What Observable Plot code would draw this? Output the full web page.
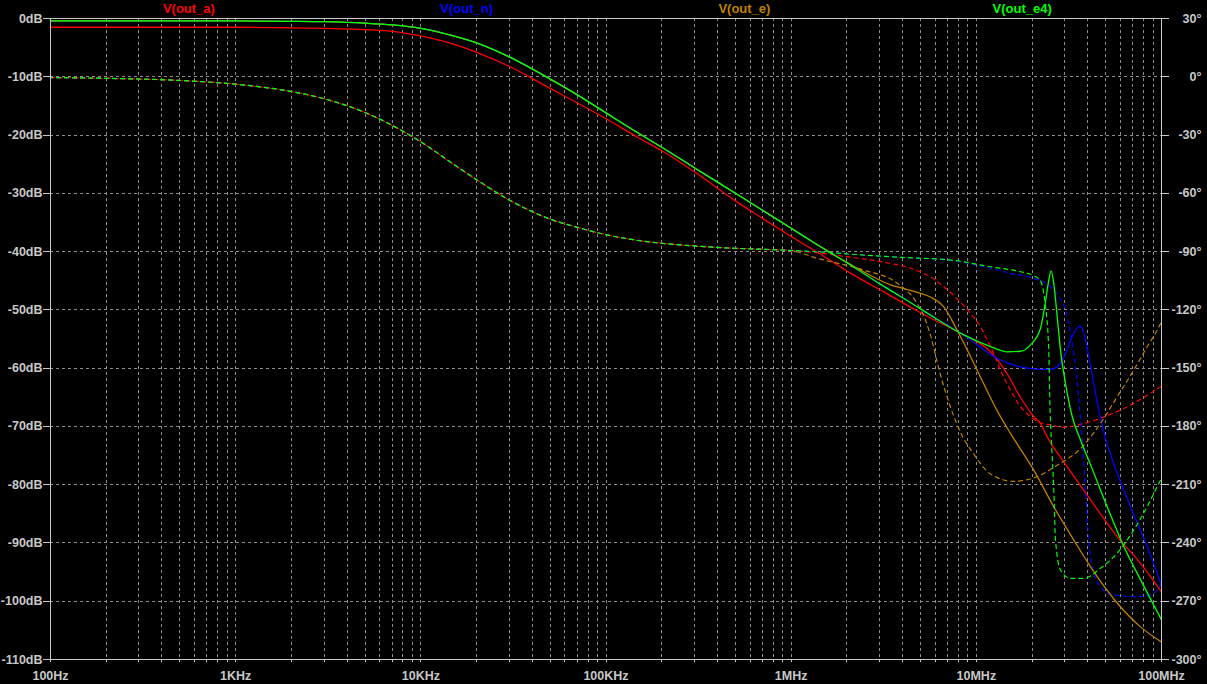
<!DOCTYPE html>
<html><head><meta charset="utf-8">
<script src="https://cdn.jsdelivr.net/npm/d3@7"></script>
<script src="https://cdn.jsdelivr.net/npm/@observablehq/plot@0.6"></script>
<style>
html,body{margin:0;padding:0;background:#000;}
#wrap{position:relative;width:1207px;height:684px;overflow:hidden;}
#legend{position:absolute;left:50px;top:0;width:1111px;height:18px;display:flex;}
#legend span{flex:1;text-align:center;font:bold 13px "Liberation Sans",Arial,sans-serif;line-height:17px;}
</style></head><body><div id="wrap"><div id="legend"></div></div>
<script>
// ---- labels ----
const seriesNames = ["V(out_a)", "V(out_n)", "V(out_e)", "V(out_e4)"];
const seriesColors = ["#ff0000", "#0000ff", "#bf8000", "#00ff00"];
const xTickValues = [1e2, 1e3, 1e4, 1e5, 1e6, 1e7, 1e8];
const xTickLabels = ["100Hz", "1KHz", "10KHz", "100KHz", "1MHz", "10MHz", "100MHz"];
const yTickValues = [0, -10, -20, -30, -40, -50, -60, -70, -80, -90, -100, -110];

// ---- shared low-frequency part (Hz) ----
const fLow = [100, 200, 500, 1e3, 2e3, 3e3, 5e3, 7e3, 1e4, 1.5e4, 2e4, 3e4, 5e4, 7e4, 1e5, 1.5e5, 2e5, 3e5, 5e5, 7e5, 1e6, 1.5e6];
const magLow = [-0.4, -0.4, -0.4, -0.42, -0.48, -0.55, -0.8, -1.1, -1.7, -3.0, -4.2, -6.6, -10.4, -13.1, -16.2, -19.7, -22.1, -25.6, -30.0, -32.9, -36.0, -39.5];
const magLowA = [-1.5, -1.5, -1.5, -1.5, -1.6, -1.7, -1.9, -2.2, -3.0, -4.4, -5.8, -8.2, -12.0, -14.5, -17.2, -20.5, -22.7, -26.3, -31.3, -34.3, -37.4, -40.8];
const phaseLow = [-0.4, -0.8, -1.9, -3.8, -7.6, -11.3, -18.4, -25, -33.5, -45, -53, -63.4, -73.3, -77.5, -81.3, -84.3, -85.7, -87.1, -88.3, -88.8, -89.4, -90.3];

// ---- V(out_a) high-frequency ----
const magF_a = [2.09e6, 3.2e6, 4.81e6, 5.65e6, 8.56e6, 11.93e6, 14.68e6, 17.31e6, 20.43e6, 22.2e6, 24.13e6, 30.95e6, 41.4e6, 57.63e6, 77e6, 1e8];
const magV_a = [-43.7, -47.0, -50.2, -51.4, -54.3, -57.2, -61.0, -65.0, -68.3, -69.5, -71.8, -76.9, -82.6, -88.9, -93.5, -98.4];
const phF_a = [1.5e6, 2.09e6, 3.15e6, 4.81e6, 5.65e6, 6.67e6, 8e6, 9.3e6, 10.53e6, 11.45e6, 12.42e6, 13.5e6, 15.29e6, 17.31e6, 19.61e6, 22.2e6, 25.14e6, 29.68e6, 35.04e6, 46.83e6, 68e6, 1e8];
const phV_a = [-91.0, -92.9, -95.4, -99.8, -103, -108.1, -115, -121.8, -128.7, -135.5, -142.4, -151, -161.3, -169.9, -175, -178.1, -179.2, -180.5, -179.3, -175.8, -169, -159.3];

// ---- V(out_n) high-frequency ----
const magF_n = [2.09e6, 3e6, 4.81e6, 5.65e6, 8.56e6, 12.9e6, 17.31e6, 22.2e6, 25.14e6, 28.48e6, 30.3e6, 32.26e6, 34.33e6, 36.2e6, 38.04e6, 40.46e6, 43.07e6, 45.83e6, 49.83e6, 57.63e6, 68e6, 83.66e6, 1e8];
const magV_n = [-42.3, -45.5, -49.5, -50.9, -54.3, -58.3, -59.8, -60.2, -60.2, -59.2, -57.5, -55.2, -53.5, -52.8, -54.0, -58.0, -62.6, -67.2, -72.0, -78.0, -83.8, -90.6, -97.2];
const phF_n = [2.09e6, 4e6, 7.38e6, 11.93e6, 15.29e6, 20.43e6, 25.14e6, 27.87e6, 30.3e6, 32.26e6, 34.33e6, 35.76e6, 37.3e6, 38.86e6, 40.46e6, 43.07e6, 46.83e6, 55.23e6, 73.9e6, 87.2e6, 94.8e6, 1e8];
const phV_n = [-91.3, -93, -94.6, -98.6, -101.2, -103.8, -108.1, -113.3, -120.1, -132.1, -149.3, -166.4, -187, -212.7, -238.5, -255.6, -262.5, -266.8, -267.6, -266.8, -264.2, -260.7];

// ---- V(out_e) high-frequency ----
const magF_e = [2.09e6, 2.8e6, 3.44e6, 3.89e6, 4.81e6, 5.65e6, 6.67e6, 7.88e6, 9.3e6, 10.93e6, 12.9e6, 15.29e6, 20.43e6, 26.2e6, 33.6e6, 41.4e6, 57.63e6, 77e6, 1e8];
const magV_e = [-42.2, -44.4, -45.7, -46.2, -47.0, -47.8, -49.5, -53.5, -58.0, -62.6, -67.2, -71.2, -77.5, -83.8, -89.5, -94.1, -100.3, -104.4, -107.0];
const phF_e = [1e6, 1.39e6, 2.46e6, 3.75e6, 4.81e6, 5.3e6, 5.65e6, 6.3e6, 7.25e6, 8.21e6, 9.65e6, 11.93e6, 15.93e6, 20.43e6, 27.34e6, 36.5e6, 46.83e6, 57.63e6, 70.86e6, 83.66e6, 94.8e6, 1e8];
const phV_e = [-89.6, -93.5, -99.5, -106.4, -117, -125, -133, -151, -170, -183, -194, -204.5, -208.3, -206.5, -200, -191.5, -178.4, -164.7, -151, -139, -130.4, -126.1];

// ---- V(out_e4) high-frequency ----
const magF_e4 = [2.09e6, 3e6, 4.81e6, 5.65e6, 8.56e6, 11.93e6, 14.68e6, 17.31e6, 19.61e6, 22.2e6, 23.63e6, 24.62e6, 25.36e6, 26.2e6, 27.34e6, 28.48e6, 30.3e6, 32.93e6, 36.8e6, 41.4e6, 50.9e6, 62.6e6, 77e6, 1e8];
const magV_e4 = [-42.3, -45.5, -49.5, -50.9, -54.3, -56.3, -57.2, -57.1, -56.0, -53.2, -48.6, -44.9, -43.3, -45.5, -51.2, -56.9, -62.6, -68.3, -72.6, -76.6, -83.8, -90.6, -96.3, -103.2];
const phF_e4 = [2.09e6, 4e6, 7.38e6, 11.93e6, 17.31e6, 20.03e6, 22.2e6, 23.14e6, 23.63e6, 24.62e6, 24.99e6, 25.46e6, 26.2e6, 26.76e6, 28.48e6, 32.26e6, 38.04e6, 46.83e6, 57.63e6, 70.86e6, 83.66e6, 94.8e6, 1e8];
const phV_e4 = [-91.3, -93, -94.4, -97.8, -100.4, -102.1, -105, -111.5, -118, -141.5, -170, -188, -212.7, -238.5, -253.9, -258.2, -258.2, -253, -245.3, -233.3, -221.3, -211, -206.7];

// ---- build tables ----
const zip = (fs, vs) => fs.map((f, i) => ({f, v: vs[i]}));
const lowMag = zip(fLow, magLow), lowMagA = zip(fLow, magLowA), lowPh = zip(fLow, phaseLow);
const magSeries = [
  lowMagA.concat(zip(magF_a, magV_a)),
  lowMag.concat(zip(magF_n, magV_n)),
  lowMag.concat(zip(magF_e, magV_e)),
  lowMag.concat(zip(magF_e4, magV_e4))
];
const phSeries = [
  lowPh.slice(0, 21).concat(zip(phF_a, phV_a)),
  lowPh.concat(zip(phF_n, phV_n)),
  lowPh.slice(0, 20).concat(zip(phF_e, phV_e)),
  lowPh.concat(zip(phF_e4, phV_e4))
];
const toDb = (deg) => (deg - 30) / 3;   // right axis: 30° ↔ 0dB, -300° ↔ -110dB

const gridF = [];
for (let d = 2; d < 8; d++) for (let k = 1; k <= 9; k++) { const f = k * Math.pow(10, d); if (f > 100) gridF.push(f); }
const gridY = yTickValues.filter(v => v !== 0 && v !== -110);

const dashOffsets = [0, 2, 2, 2];
const lineMarks = [];
seriesNames.forEach((name, i) => {
  lineMarks.push(Plot.line(magSeries[i], {x: "f", y: "v", stroke: seriesColors[i], strokeWidth: 1.3, curve: "monotone-x"}));
  lineMarks.push(Plot.line(phSeries[i], {x: "f", y: d => toDb(d.v), stroke: seriesColors[i], strokeWidth: 1.2, strokeDasharray: "4,4", strokeDashoffset: dashOffsets[i], curve: "monotone-x"}));
});

const chart = Plot.plot({
  width: 1207, height: 684,
  marginLeft: 50, marginRight: 46, marginTop: 18, marginBottom: 25,
  style: {background: "#000", color: "#c8c8c8", fontFamily: '"Liberation Sans", Arial, sans-serif', fontSize: "12.5px", fontWeight: "bold"},
  x: {type: "log", domain: [1e2, 1e8], label: null},
  y: {domain: [-110, 0], label: null},
  marks: [
    Plot.ruleX(gridF, {stroke: "#8c8c8c", strokeDasharray: "3,3", shapeRendering: "crispEdges"}),
    Plot.ruleY(gridY, {stroke: "#8c8c8c", strokeDasharray: "3,3", shapeRendering: "crispEdges"}),
    ...lineMarks,
    Plot.frame({stroke: "#c8c8c8", shapeRendering: "crispEdges"}),
    Plot.axisX(gridF, {tickSize: 3, tickFormat: () => "", label: null, shapeRendering: "crispEdges"}),
    Plot.axisX(xTickValues, {tickSize: 3, tickPadding: 9, label: null, tickFormat: d => xTickLabels[xTickValues.indexOf(d)], shapeRendering: "crispEdges"}),
    Plot.axisY(yTickValues, {anchor: "left", tickSize: 7, tickPadding: 1, label: null, tickFormat: d => d + "dB", shapeRendering: "crispEdges"}),
    Plot.axisY(yTickValues, {anchor: "right", tickSize: 7, tickPadding: 33, textAnchor: "end", label: null, tickFormat: d => (d * 3 + 30) + "°", shapeRendering: "crispEdges"})
  ]
});
const wrap = document.getElementById("wrap");
wrap.insertBefore(chart, wrap.firstChild);
const legend = document.getElementById("legend");
seriesNames.forEach((n, i) => {
  const s = document.createElement("span");
  s.textContent = n; s.style.color = seriesColors[i];
  legend.appendChild(s);
});
</script></body></html>
